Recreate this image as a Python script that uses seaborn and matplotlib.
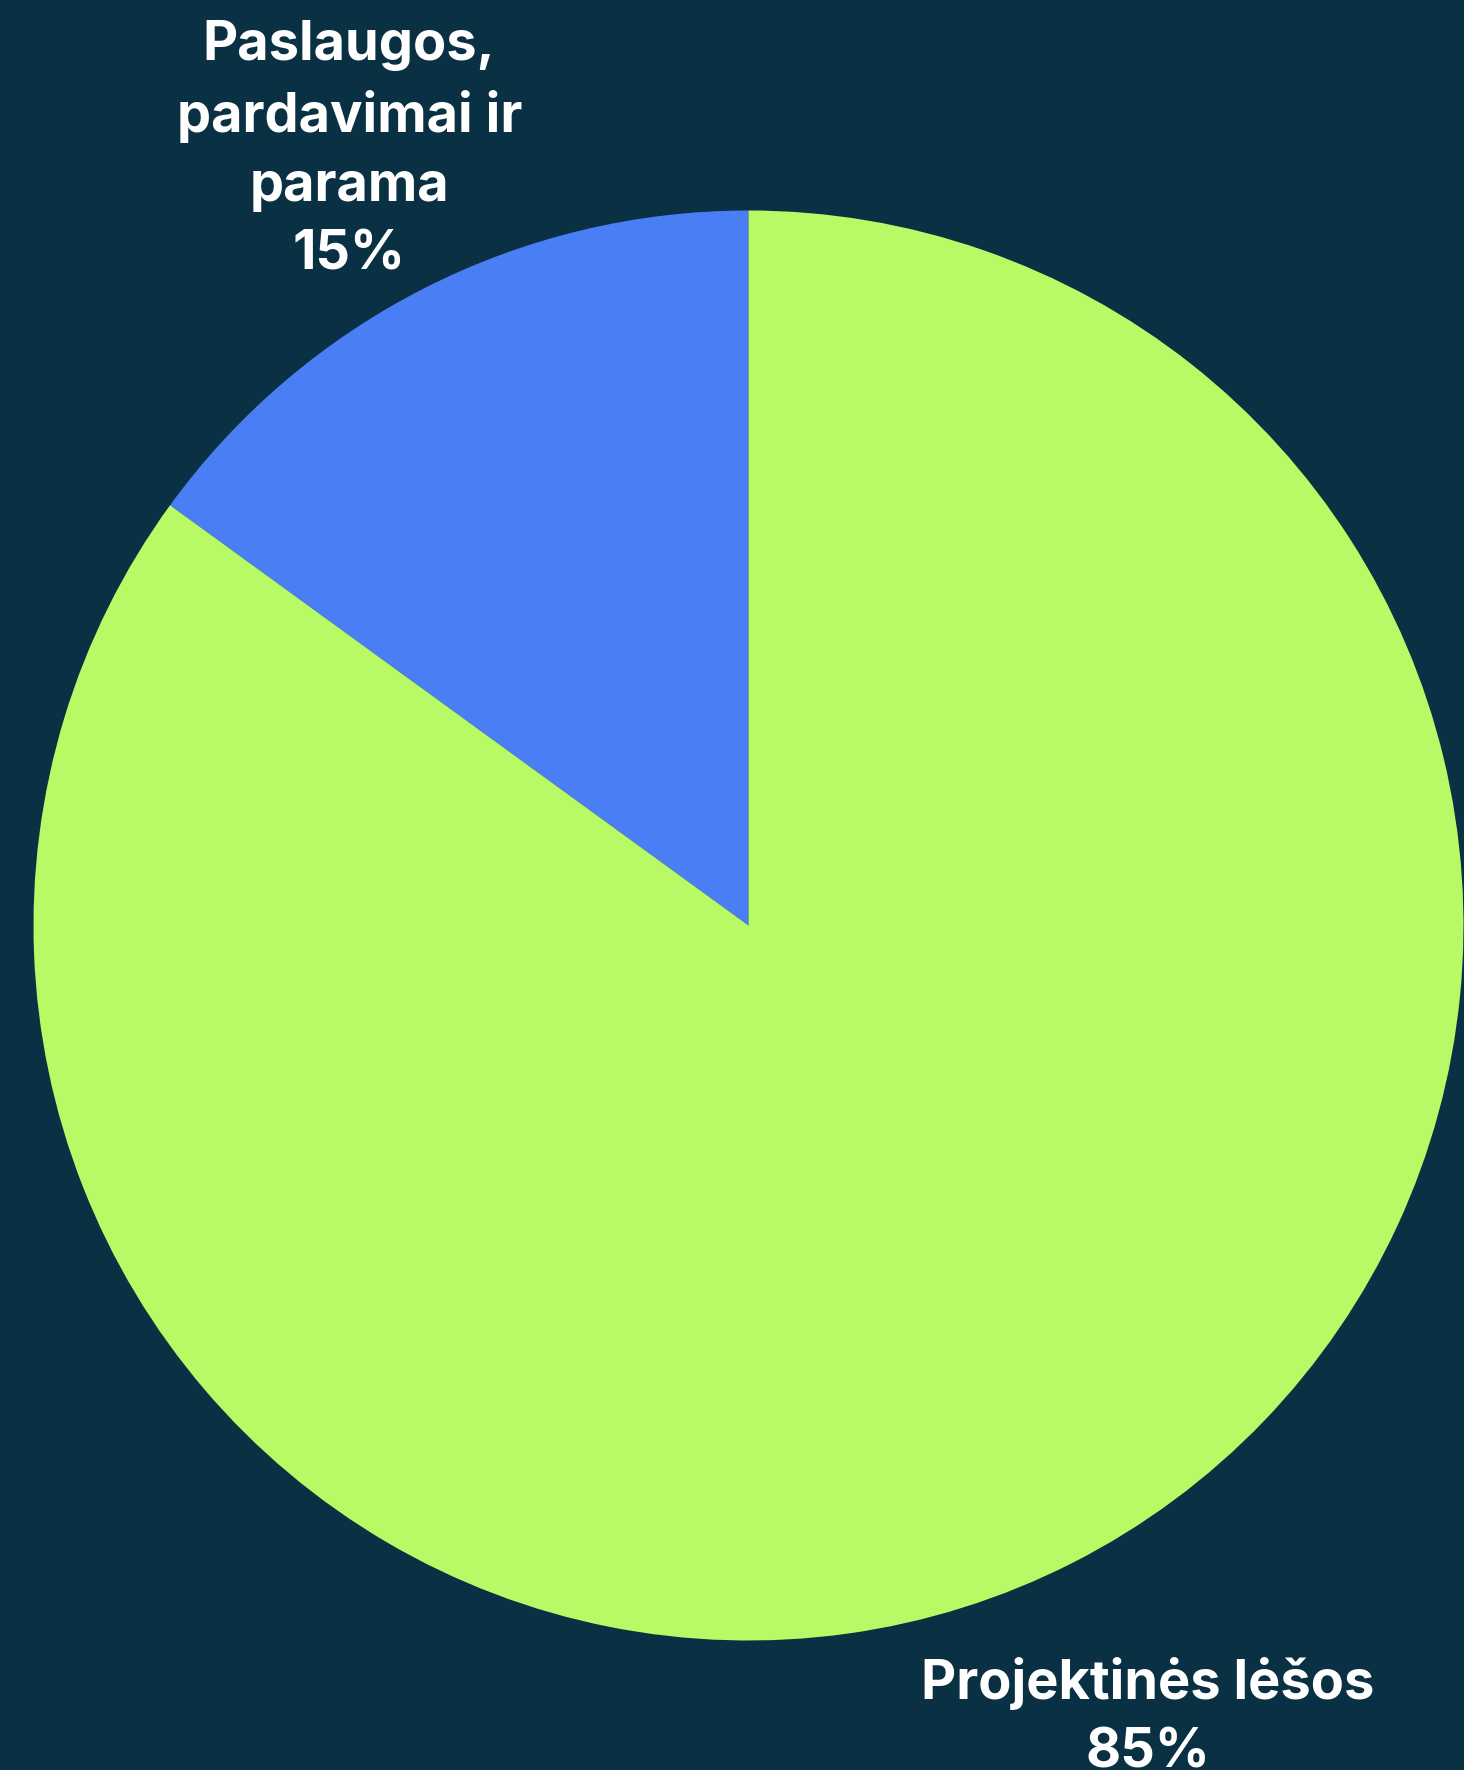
import matplotlib
matplotlib.use("Agg")
import seaborn as sns
import matplotlib.pyplot as plt

# data
categories = ["Paslaugos,\npardavimai ir\nparama", "Projektinės lėšos"]
shares = [15, 85]
palette = ["#4A7EF5", "#B8F966"]
bg = "#0A3143"

sns.set_theme(style="white", rc={"figure.facecolor": bg, "axes.facecolor": bg})
plt.rcParams["font.family"] = ["Inter", "DejaVu Sans"]

fig = plt.figure(figsize=(14.64, 17.70), dpi=100)
ax = fig.add_axes([0, 0, 1, 1])

labels = [f"{c}\n{s}%" for c, s in zip(categories, shares)]
wedges, texts = ax.pie(shares, labels=labels, colors=palette, startangle=90,
                       counterclock=True, labeldistance=1.23,
                       wedgeprops={"linewidth": 0},
                       textprops={"color": "white", "fontsize": 39,
                                  "fontweight": "bold", "linespacing": 1.45})
# centre the labels and nudge them a little down
for t in texts:
    t.set_ha("center")
    t.set_va("center")
    x, y = t.get_position()
    t.set_position((x, y - 0.012))

# 1 data unit = 715 px, pie centre at (748.5, 925.5) px from top-left
r = 715
cx, cy = 748.5, 925.5
ax.set_aspect("auto")
ax.set_xlim(-cx / r, (1464 - cx) / r)
ax.set_ylim(-(1770 - cy) / r, cy / r)
ax.axis("off")

fig.savefig("out.png", dpi=100, facecolor=bg)
